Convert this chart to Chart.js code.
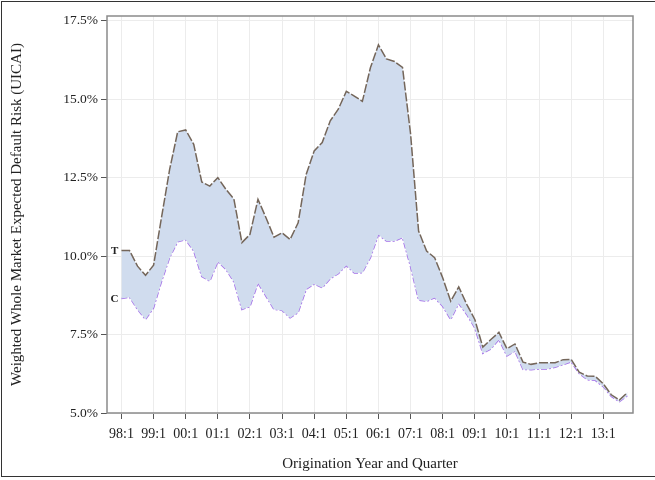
<!DOCTYPE html>
<html>
<head>
<meta charset="utf-8">
<script src="https://cdn.jsdelivr.net/npm/chart.js@4/dist/chart.umd.min.js"></script>
<style>
  html, body { margin: 0; padding: 0; background: #fff; width: 655px; height: 480px; overflow: hidden; }
  #frame { position: absolute; left: 1px; top: 1px; width: 700px; height: 476px; border: 1px solid #333; box-sizing: border-box; pointer-events: none; }
  #c { position: absolute; left: 0; top: 0; }
</style>
</head>
<body>
<canvas id="c" width="655" height="480"></canvas>
<div id="frame"></div>
<script>
// Quarterly origination series, 98:1 .. 13:4 (64 quarters)
const seriesT = [
  10.18, 10.18, 9.68, 9.39,
  9.71, 11.25, 12.76, 13.96,
  14.02, 13.56, 12.36, 12.23,
  12.50, 12.13, 11.82, 10.43,
  10.69, 11.81, 11.22, 10.60,
  10.74, 10.53, 11.06, 12.60,
  13.35, 13.62, 14.31, 14.68,
  15.25, 15.10, 14.93, 16.00,
  16.73, 16.28, 16.20, 16.01,
  13.90, 10.80, 10.16, 9.95,
  9.31, 8.56, 9.02, 8.46,
  7.98, 7.10, 7.34, 7.57,
  7.05, 7.20, 6.62, 6.55,
  6.60, 6.60, 6.60, 6.70,
  6.71, 6.30, 6.18, 6.17,
  5.93, 5.58, 5.41, 5.65
];
const seriesC = [
  8.65, 8.69, 8.30, 7.98,
  8.35, 9.20, 9.95, 10.46,
  10.52, 10.16, 9.35, 9.20,
  9.82, 9.58, 9.18, 8.30,
  8.39, 9.14, 8.72, 8.30,
  8.27, 8.03, 8.20, 8.94,
  9.11, 8.99, 9.28, 9.44,
  9.70, 9.46, 9.47, 9.95,
  10.68, 10.48, 10.48, 10.59,
  9.66, 8.60, 8.56, 8.67,
  8.40, 7.98, 8.49, 8.14,
  7.71, 6.90, 7.04, 7.34,
  6.82, 6.97, 6.39, 6.38,
  6.40, 6.40, 6.46, 6.54,
  6.63, 6.26, 6.06, 6.04,
  5.84, 5.53, 5.36, 5.55
];
const seriesNames = ['T', 'C'];
const xTickLabels = ['98:1','99:1','00:1','01:1','02:1','03:1','04:1','05:1','06:1','07:1','08:1','09:1','10:1','11:1','12:1','13:1'];
const yTickValues = [5.0, 7.5, 10.0, 12.5, 15.0, 17.5];

const serif = "'Liberation Serif', 'Times New Roman', serif";

const framePlugin = {
  id: 'frame',
  afterDraw(chart) {
    const {ctx, chartArea: a} = chart;
    ctx.save();
    ctx.strokeStyle = '#8a8a8a';
    ctx.lineWidth = 1.5;
    ctx.strokeRect(a.left, a.top, a.right - a.left, a.bottom - a.top);
    ctx.restore();
  }
};

const seriesLabelPlugin = {
  id: 'seriesLabels',
  afterDatasetsDraw(chart) {
    const {ctx} = chart;
    const xs = chart.scales.x, ys = chart.scales.y;
    ctx.save();
    ctx.font = "bold 11px " + serif;
    ctx.fillStyle = '#222';
    ctx.textAlign = 'right';
    ctx.textBaseline = 'middle';
    const x0 = xs.getPixelForValue(0) - 3;
    ctx.fillText(seriesNames[0], x0, ys.getPixelForValue(seriesT[0]) + 1);
    ctx.fillText(seriesNames[1], x0, ys.getPixelForValue(seriesC[0]) + 1);
    ctx.restore();
  }
};

new Chart(document.getElementById('c'), {
  type: 'line',
  data: {
    datasets: [
      {
        label: seriesNames[0],
        data: seriesT.map((v, i) => ({x: i, y: v})),
        borderColor: '#74665a',
        borderWidth: 1.5,
        borderDash: [9, 2],
        backgroundColor: '#d0dcee',
        fill: '+1',
        pointRadius: 0,
        tension: 0
      },
      {
        label: seriesNames[1],
        data: seriesC.map((v, i) => ({x: i, y: v})),
        borderColor: '#a36ee8',
        borderWidth: 1.5,
        borderDash: [6, 2, 2, 2],
        fill: false,
        pointRadius: 0,
        tension: 0
      }
    ]
  },
  options: {
    responsive: false,
    animation: false,
    devicePixelRatio: 1,
    layout: { padding: { left: 0, top: 16, right: 22, bottom: 0 } },
    plugins: { legend: { display: false }, tooltip: { enabled: false } },
    scales: {
      x: {
        type: 'linear',
        min: -1.8,
        max: 63.7,
        afterBuildTicks(scale) { scale.ticks = xTickLabels.map((_, i) => ({value: i * 4})); },
        afterFit(scale) { scale.height = 67; },
        ticks: {
          autoSkip: false,
          maxRotation: 0,
          padding: 7,
          color: '#222',
          font: { family: serif, size: 14 },
          callback: (v) => xTickLabels[Math.round(v / 4)]
        },
        grid: { color: '#ececec', lineWidth: 1, tickLength: 6, tickColor: '#555', tickWidth: 1 },
        border: { display: false },
        title: {
          display: true,
          text: 'Origination Year and Quarter',
          color: '#222',
          font: { family: serif, size: 15 },
          padding: { top: 0, bottom: 7 }
        }
      },
      y: {
        min: 5,
        max: 17.65,
        afterBuildTicks(scale) { scale.ticks = yTickValues.map(v => ({value: v})); },
        afterFit(scale) { scale.width = 107; },
        ticks: {
          padding: 3,
          color: '#222',
          font: { family: serif, size: 13.5 },
          callback: (v) => v.toFixed(1) + '%'
        },
        grid: { color: '#ececec', lineWidth: 1, tickLength: 6, tickColor: '#555', tickWidth: 1 },
        border: { display: false },
        title: {
          display: true,
          text: 'Weighted Whole Market Expected Default Risk (UICAI)',
          color: '#222',
          font: { family: serif, size: 15 },
          padding: { top: 8, bottom: 0 }
        }
      }
    }
  },
  plugins: [framePlugin, seriesLabelPlugin]
});
</script>
</body>
</html>
